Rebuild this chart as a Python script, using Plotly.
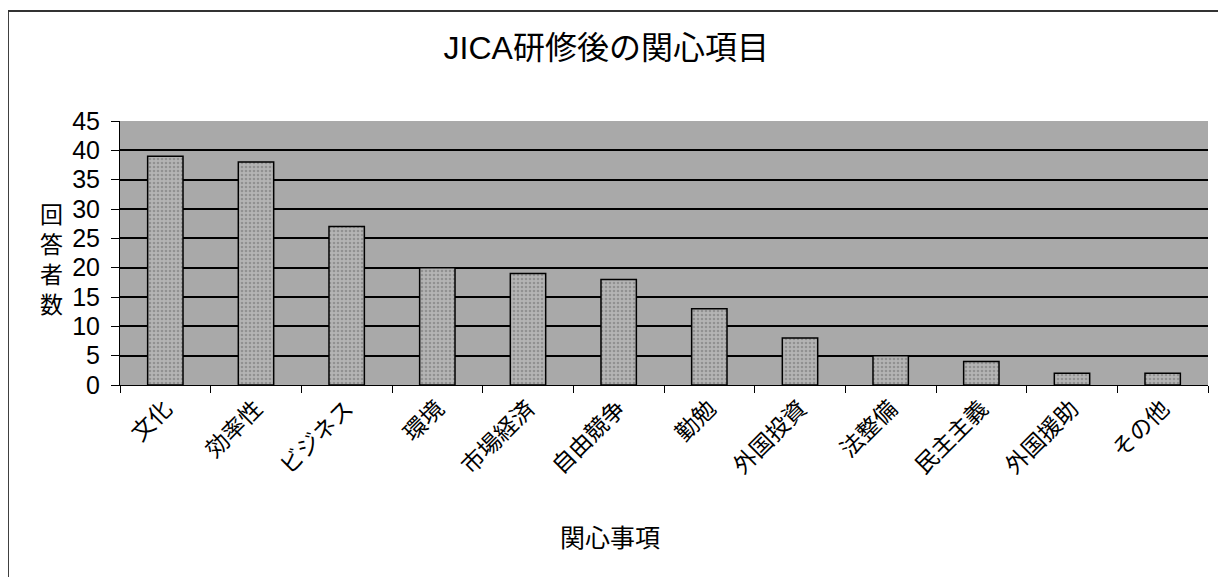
import plotly.graph_objects as go

categories = ["文化", "効率性", "ビジネス", "環境", "市場経済", "自由競争",
              "勤勉", "外国投資", "法整備", "民主主義", "外国援助", "その他"]
counts = [39, 38, 27, 20, 19, 18, 13, 8, 5, 4, 2, 2]
y_ticks = [0, 5, 10, 15, 20, 25, 30, 35, 40, 45]

FONT = "Liberation Sans, Arial, Noto Sans CJK JP, sans-serif"

fig = go.Figure(go.Bar(
    x=categories, y=counts,
    marker=dict(color="#a2a2a2", line=dict(color="black", width=1.5),
                pattern=dict(shape=".", fgcolor="#6e6e6e", bgcolor="#b4b4b4", size=4, solidity=0.35)),
    width=0.39,
))

fig.update_layout(
    width=1226, height=577,
    margin=dict(l=112, r=26, t=113, b=200, autoexpand=False),
    paper_bgcolor="white",
    plot_bgcolor="#a9a9a9",
    font=dict(family=FONT, color="black", size=20),
    title=dict(text="JICA研修後の関心項目", x=0.488, xanchor="center", y=0.931, yanchor="middle",
               font=dict(size=32, family=FONT)),
    showlegend=False,
    shapes=[
        dict(type="line", xref="paper", yref="paper", x0=-0.103, x1=1.03, y0=1.417, y1=1.417,
             line=dict(color="#333", width=2)),
        dict(type="line", xref="paper", yref="paper", x0=-0.103, x1=-0.103, y0=1.417, y1=-0.75,
             line=dict(color="#333", width=2)),
    ],
    annotations=[
        dict(text="回<br>答<br>者<br>数", xref="paper", yref="paper", x=-0.0634, y=0.475,
             xanchor="center", yanchor="middle", showarrow=False, font=dict(size=23, family=FONT)),
        dict(text="関心事項", xref="paper", yref="paper", x=0.45, y=-0.58,
             xanchor="center", yanchor="middle", showarrow=False, font=dict(size=25, family=FONT)),
    ],
)

fig.update_xaxes(
    type="category", tickangle=-45, tickson="boundaries", ticks="outside", ticklen=7,
    tickcolor="black", showline=True, linecolor="black", linewidth=1,
    showgrid=False, tickfont=dict(size=23), automargin=False,
)
fig.update_yaxes(
    range=[0, 45], tickvals=y_ticks, ticks="outside", ticklen=8, tickcolor="black",
    showline=True, linecolor="black", linewidth=1, showgrid=True, gridcolor="black",
    gridwidth=1.5, tickfont=dict(size=25), zeroline=False, automargin=False,
    ticklabelstandoff=6,
)

fig.write_html("out.html")
